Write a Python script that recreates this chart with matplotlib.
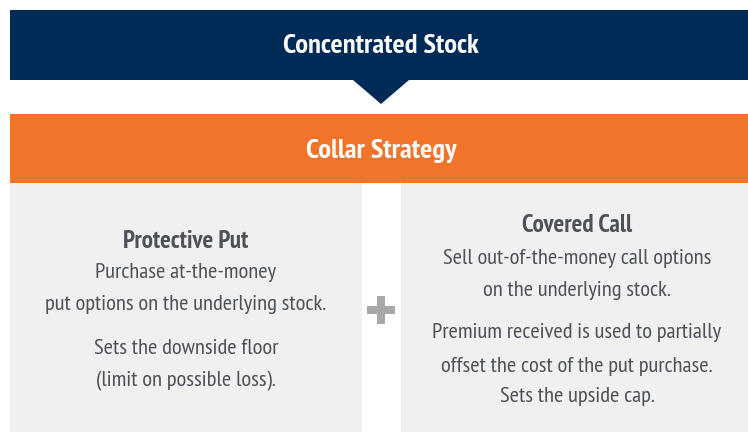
import matplotlib.pyplot as plt
from matplotlib.patches import Rectangle, Polygon

# Text content of the diagram
top_title = "Concentrated Stock"
strategy_title = "Collar Strategy"
left_heading = "Protective Put"
left_lines = ["Purchase at-the-money", "put options on the underlying stock.",
              "Sets the downside floor", "(limit on possible loss)."]
right_heading = "Covered Call"
right_lines = ["Sell out-of-the-money call options", "on the underlying stock.",
               "Premium received is used to partially",
               "offset the cost of the put purchase.", "Sets the upside cap."]

NAVY = "#002b57"
ORANGE = "#f2742b"
PANEL = "#f0f0f0"
TEXT = "#4d5158"
PLUS = "#a7a8aa"
FONT = ["PT Sans Narrow", "DejaVu Sans"]

fig = plt.figure(figsize=(7.48, 4.32), dpi=100)
ax = fig.add_axes([0, 0, 1, 1])
ax.set_xlim(0, 748)
ax.set_ylim(432, 0)
ax.axis("off")

# header bar with arrow
ax.add_patch(Rectangle((10, 10), 738, 70, color=NAVY, lw=0))
ax.add_patch(Polygon([(353, 80), (409, 80), (381, 104)], closed=True, color=NAVY, lw=0))
ax.text(381, 46, top_title, ha="center", va="center", color="white",
        fontsize=20.5, fontweight="bold", family=FONT)

# orange strategy bar
ax.add_patch(Rectangle((10, 114), 738, 69, color=ORANGE, lw=0))
ax.text(381, 151, strategy_title, ha="center", va="center", color="white",
        fontsize=20.5, fontweight="bold", family=FONT)

# two grey panels
ax.add_patch(Rectangle((10, 183), 352, 249, color=PANEL, lw=0))
ax.add_patch(Rectangle((401, 183), 347, 249, color=PANEL, lw=0))

# plus sign
ax.add_patch(Rectangle((367, 306), 28, 8, color=PLUS, lw=0))
ax.add_patch(Rectangle((377, 296), 8, 28, color=PLUS, lw=0))

# left panel text
ax.text(186, 242, left_heading, ha="center", va="center", color=TEXT,
        fontsize=18, fontweight="bold", family=FONT)
for y, line in zip([272, 304, 349, 381], left_lines):
    ax.text(186, y, line, ha="center", va="center", color=TEXT, fontsize=16.2, family=FONT)

# right panel text
ax.text(577, 226, right_heading, ha="center", va="center", color=TEXT,
        fontsize=18, fontweight="bold", family=FONT)
for y, line in zip([258, 290, 333, 366, 397], right_lines):
    ax.text(577, y, line, ha="center", va="center", color=TEXT, fontsize=16.2, family=FONT)

fig.savefig("out.png", dpi=100)
